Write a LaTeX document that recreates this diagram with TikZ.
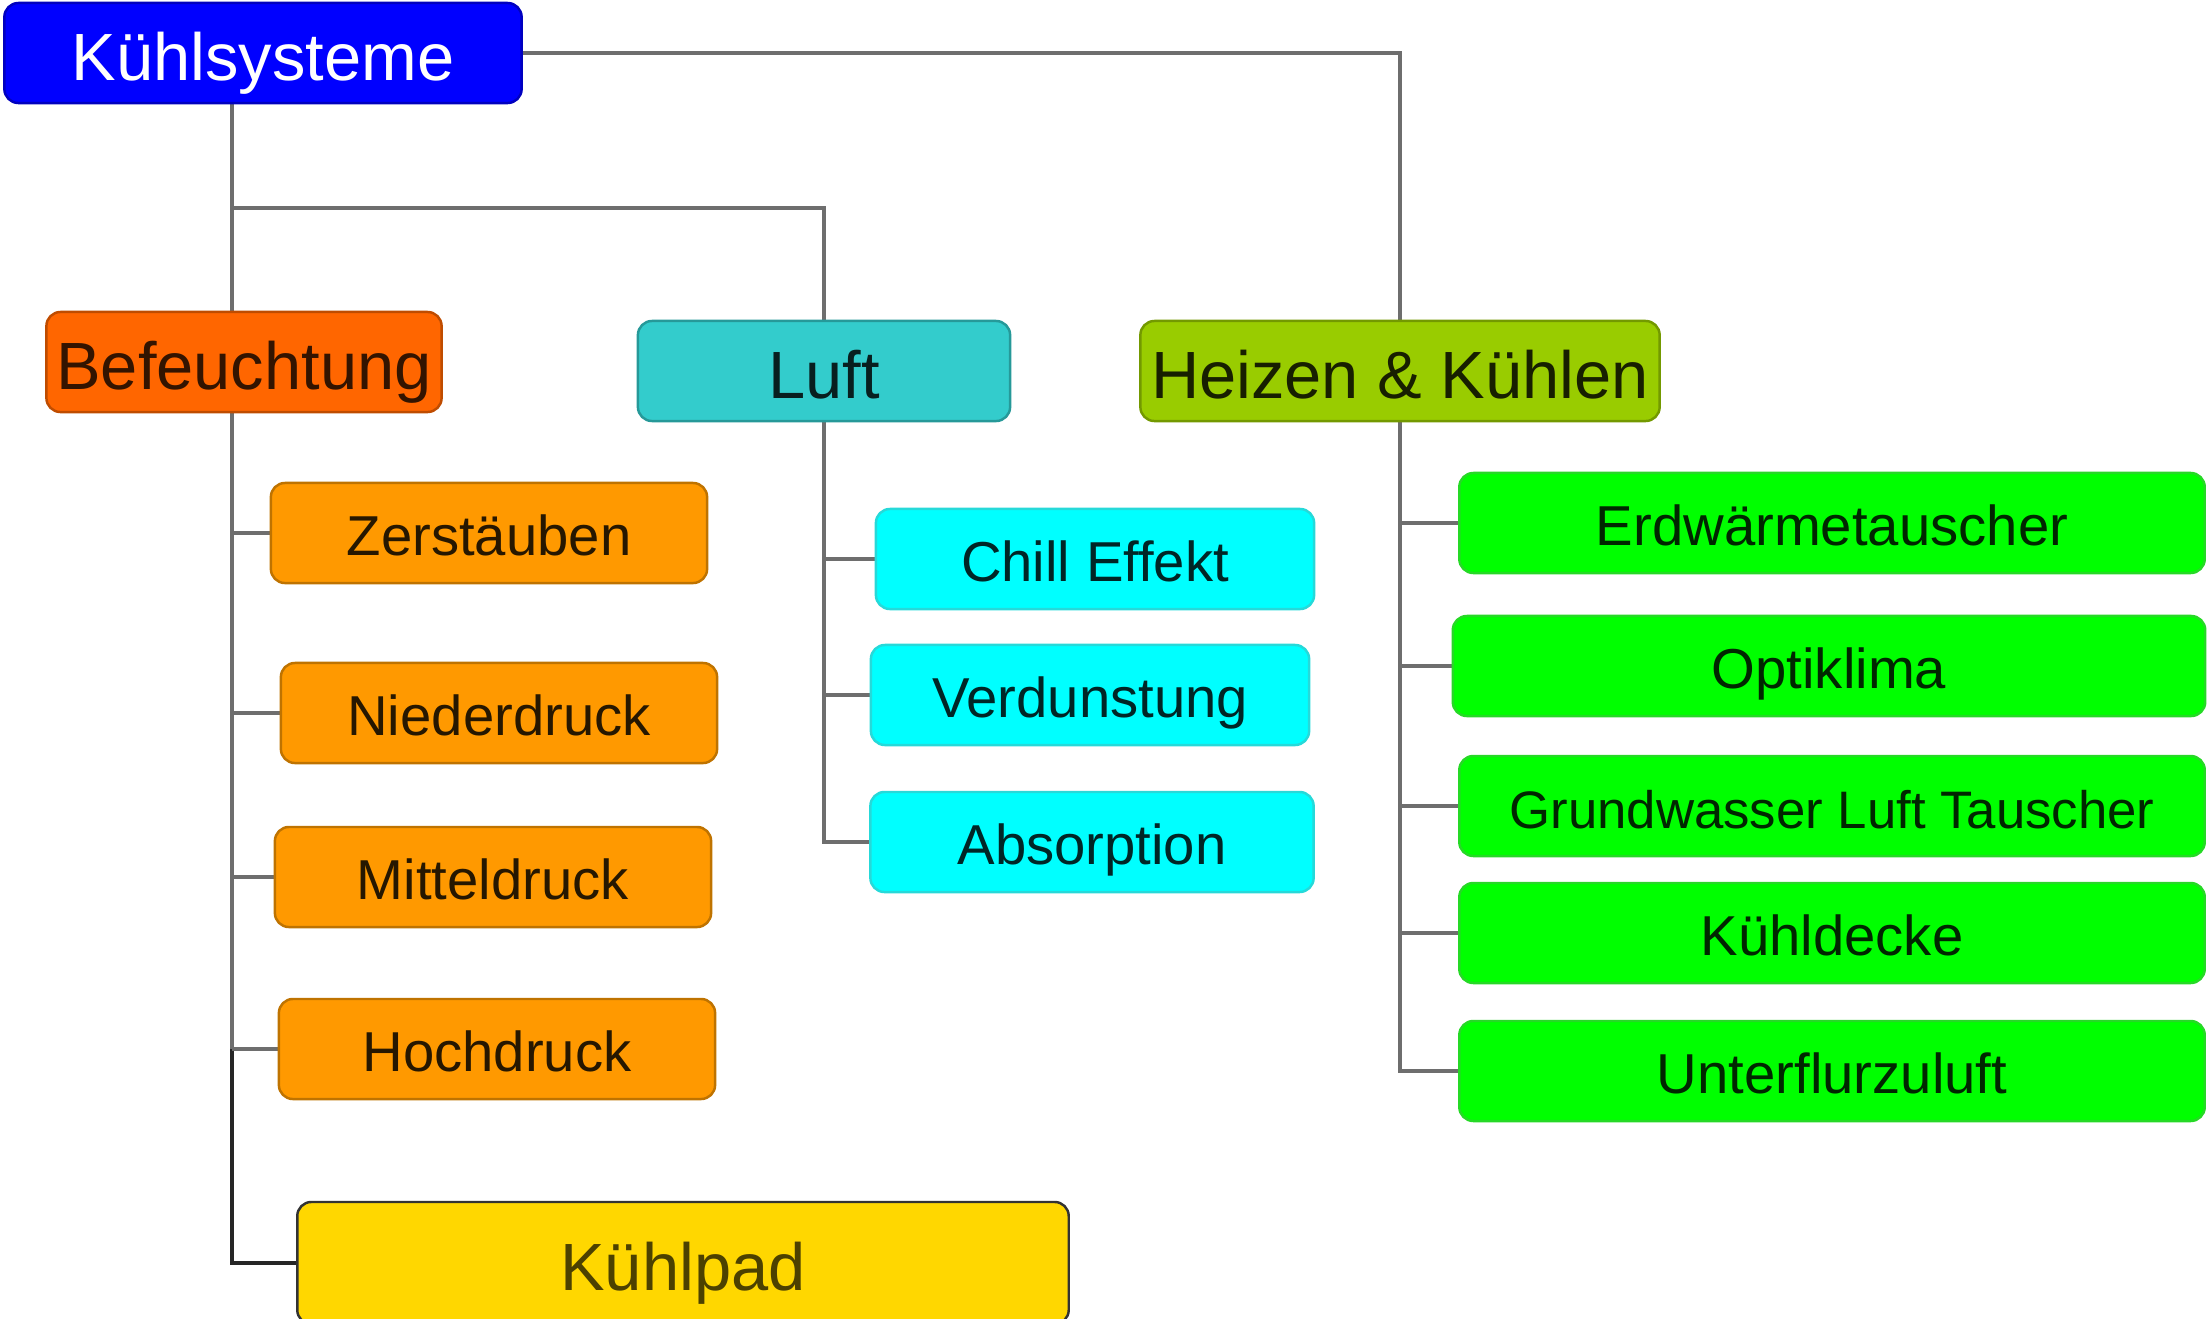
\documentclass[tikz,border=0pt]{standalone}
\usepackage{fontspec}
\setmainfont{Liberation Sans}
\usepackage{xcolor}
\usepackage{tikz}
\usetikzlibrary{backgrounds}

\definecolor{ksblue}{RGB}{0,0,255}
\definecolor{befcol}{RGB}{255,102,0}
\definecolor{luftcol}{RGB}{51,204,204}
\definecolor{hkcol}{RGB}{153,204,0}
\definecolor{orcol}{RGB}{255,153,0}
\definecolor{cycol}{RGB}{0,255,255}
\definecolor{grcol}{RGB}{0,255,0}
\definecolor{kpcol}{RGB}{255,215,0}
\definecolor{linegray}{RGB}{110,110,110}

\begin{document}
\begin{tikzpicture}[x=0.01cm,y=-0.01cm,
  box/.style={draw,rounded corners=4pt,line width=0.7pt,inner sep=0pt,minimum height=1cm},
  head/.style={box,font=\fontsize{19}{22}\selectfont,text height=15.5pt,text depth=0pt},
  leaf/.style={box,font=\fontsize{16}{19}\selectfont,text height=13pt,text depth=0pt},
  orleaf/.style={leaf,fill=orcol,draw=orcol!75!black,text=black!85!orcol,minimum width=4.36cm},
  cyleaf/.style={leaf,fill=cycol,draw=cycol!70!gray,text=black!85!cycol,minimum width=4.38cm},
  grleaf/.style={leaf,fill=grcol,draw=grcol!70!gray,text=black!85!grcol,minimum width=7.45cm},
  conn/.style={draw=linegray,line width=1pt}]
\clip (0,0) rectangle (2209,1318);

% top level
\node[head,fill=ksblue,draw=ksblue!75!black,text=white,minimum width=5.17cm] (ks) at (263,53) {Kühlsysteme};
\node[head,fill=befcol,draw=befcol!75!black,text=black!80!befcol,minimum width=3.95cm] (bef) at (244,362) {Befeuchtung};
\node[head,fill=luftcol,draw=luftcol!75!black,text=black!85!luftcol,minimum width=3.72cm] (luft) at (824,371) {Luft};
\node[head,fill=hkcol,draw=hkcol!75!black,text=black!85!hkcol,minimum width=5.19cm] (hk) at (1400,371) {Heizen \& Kühlen};

% Befeuchtung
\node[orleaf] (zer) at (489,533) {Zerstäuben};
\node[orleaf] (nie) at (499,713) {Niederdruck};
\node[orleaf] (mit) at (493,877) {Mitteldruck};
\node[orleaf] (hoch) at (497,1049) {Hochdruck};
\node[head,fill=kpcol,draw=black!80,text=black!70!kpcol,minimum width=7.71cm,minimum height=1.22cm] (kp) at (683,1263) {Kühlpad};

% Luft
\node[cyleaf] (chill) at (1095,559) {Chill Effekt};
\node[cyleaf] (verd) at (1090,695) {Verdunstung};
\node[cyleaf,minimum width=4.43cm] (abs) at (1092,842) {Absorption};

% Heizen & Kuehlen
\node[grleaf] (erd) at (1832,523) {Erdwärmetauscher};
\node[grleaf,minimum width=7.52cm] (opt) at (1829,666) {Optiklima};
\node[grleaf,font=\fontsize{15}{18}\selectfont] (grund) at (1832,806) {Grundwasser Luft Tauscher};
\node[grleaf] (kd) at (1832,933) {Kühldecke};
\node[grleaf] (uf) at (1832,1071) {Unterflurzuluft};

\coordinate (trunk) at (232,103);
\coordinate (lb) at (232,208);

\begin{scope}[on background layer]
\draw[conn] (ks.east) -| (hk.north);
\draw[conn] (trunk) -- (trunk |- hoch.west);
\draw[conn,draw=black!85] (trunk |- hoch.west) |- (kp.west);
\draw[conn] (lb) -| (luft.north);
\foreach \n in {zer,nie,mit,hoch}
  \draw[conn] (trunk |- \n.west) -- (\n.west);
\draw[conn] (luft.south) |- (abs.west);
\foreach \n in {chill,verd}
  \draw[conn] (luft.south |- \n.west) -- (\n.west);
\draw[conn] (hk.south) |- (uf.west);
\foreach \n in {erd,opt,grund,kd}
  \draw[conn] (hk.south |- \n.west) -- (\n.west);
\end{scope}
\end{tikzpicture}
\end{document}
